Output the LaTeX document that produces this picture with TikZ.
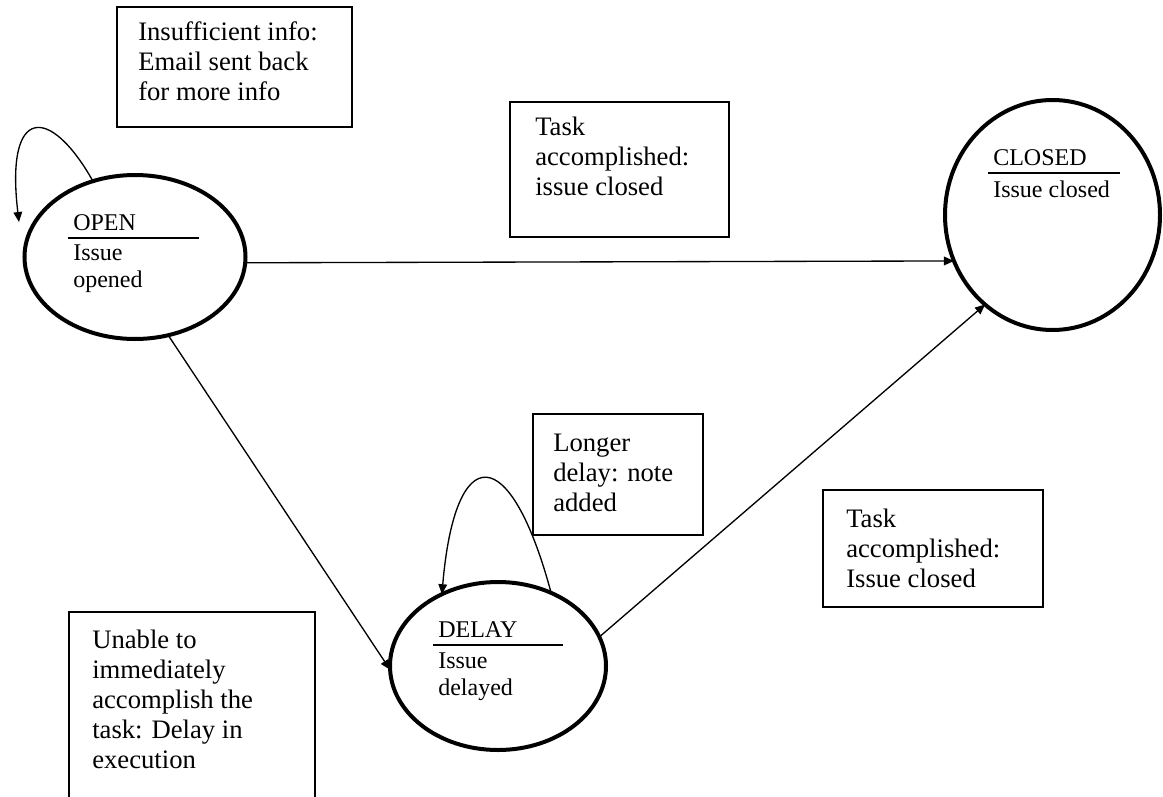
\documentclass[tikz,border=0pt]{standalone}
\usepackage{fontspec}
\setmainfont{Liberation Serif}
\usetikzlibrary{arrows.meta,shapes.geometric}
\begin{document}
\begin{tikzpicture}[x=0.75pt,y=-0.75pt,
  state/.style={ellipse,draw,line width=3pt,inner sep=0pt,outer sep=0pt},
  note/.style={draw,line width=1.1pt,inner sep=0pt,outer sep=0pt,anchor=north west},
  % multi-line texts are placed by the baseline of their last line
  notetext/.style={anchor=base west,inner sep=0pt,align=left,font=\fontsize{20}{22.5}\selectfont},
  statetext/.style={anchor=base west,inner sep=0pt,align=left,font=\fontsize{18}{20.25}\selectfont},
  rulebar/.style={line width=1.4pt},
  trans/.style={line width=1pt,-{Triangle[length=7.5pt,width=6.5pt]}}]
\useasboundingbox (0,0) rectangle (1163,796);
\clip (0,0) rectangle (1163,796);

% states
\node[state,minimum width=165.75pt,minimum height=123pt] (open) at (135,257) {};
\node[state,minimum width=161.25pt,minimum height=172.5pt] (closed) at (1052.5,215) {};
\node[state,minimum width=162pt,minimum height=126pt] (delay) at (498,666) {};

% state labels
\node[statetext] (openT) at (73,230) {OPEN};
\draw[rulebar] (68,238) -- (199,238);
\node[statetext] (openD) at (73,287) {Issue\\opened};

\node[statetext] (closedT) at (993,165) {CLOSED};
\draw[rulebar] (988,173) -- (1120,173);
\node[statetext] (closedD) at (993,197) {Issue closed};

\node[statetext] (delayT) at (438,637) {DELAY};
\draw[rulebar] (433,645) -- (563,645);
\node[statetext] (delayD) at (438,695) {Issue\\delayed};

% note boxes
\node[note,minimum width=176.25pt,minimum height=90pt] (n1) at (117,7) {};
\node[notetext] (n1t) at (138,100) {Insufficient info:\\Email sent back\\for more info};

\node[note,minimum width=164.25pt,minimum height=101.25pt] (n2) at (510,102) {};
\node[notetext] (n2t) at (535,195) {Task\\accomplished:\\issue closed};

\node[note,minimum width=127.5pt,minimum height=90.75pt] (n3) at (533,414) {};
\node[notetext] (n3t) at (553,511) {Longer\\delay: note\\added};

\node[note,minimum width=165pt,minimum height=87.75pt] (n4) at (823,490) {};
\node[notetext] (n4t) at (846,587) {Task\\accomplished:\\Issue closed};

\node[note,minimum width=184.5pt,minimum height=150pt] (n5) at (69,612) {};
\node[notetext] (n5t) at (92,768) {Unable to\\immediately\\accomplish the\\task: Delay in\\execution};

% transitions
\coordinate (openLoopEnd) at (19,222);
\draw[trans] (open.119) .. controls (50,105) and (5,105) .. (openLoopEnd);
\draw[trans] (open.357.4) -- (closed.205.6);
\draw[trans] (open.293.6) -- (delay.182);
\draw[trans] (delay.16) -- (closed.233.3);
\draw[trans] (delay.54.6) .. controls (510,440) and (455,440) .. (delay.128.7);
\end{tikzpicture}
\end{document}
